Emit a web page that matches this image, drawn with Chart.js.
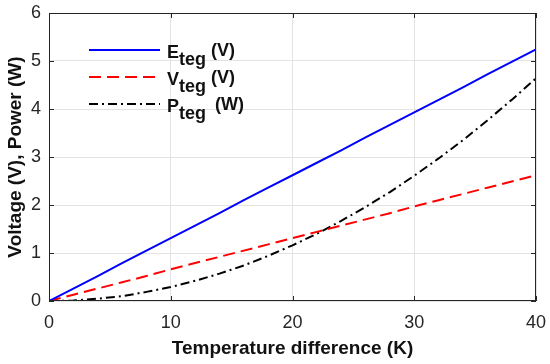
<!DOCTYPE html>
<html>
<head>
<meta charset="utf-8">
<script src="https://cdn.jsdelivr.net/npm/chart.js@4"></script>
<style>
  html, body { margin: 0; padding: 0; background: #fff; }
  #wrap { width: 550px; height: 364px; }
</style>
</head>
<body>
<div id="wrap"><canvas id="chart" width="550" height="364"></canvas></div>
<script>
// temperature difference (K)
const tempDiff = [0, 2, 4, 6, 8, 10, 12, 14, 16, 18, 20, 22, 24, 26, 28, 30, 32, 34, 36, 38, 40];
// values
const eTeg = [0, 0.26, 0.52, 0.79, 1.05, 1.31, 1.57, 1.83, 2.10, 2.36, 2.62, 2.88, 3.14, 3.41, 3.67, 3.93, 4.19, 4.45, 4.72, 4.98, 5.24];
const vTeg = [0, 0.13, 0.26, 0.39, 0.52, 0.66, 0.79, 0.92, 1.05, 1.18, 1.31, 1.44, 1.57, 1.70, 1.83, 1.97, 2.10, 2.23, 2.36, 2.49, 2.62];
const pTeg = [0, 0.01, 0.05, 0.10, 0.19, 0.29, 0.42, 0.57, 0.74, 0.94, 1.16, 1.40, 1.67, 1.96, 2.27, 2.61, 2.97, 3.35, 3.76, 4.19, 4.64];
const xTicks = [0, 10, 20, 30, 40];
const yTicks = [0, 1, 2, 3, 4, 5, 6];
const legendItems = [
  { main: 'E', sub: 'teg', unit: '(V)' },
  { main: 'V', sub: 'teg', unit: '(V)' },
  { main: 'P', sub: 'teg', unit: '(W)' },
];

const colors = ['#0000ff', '#ff0000', '#000000'];
const dashes = [[], [12, 6], [9, 4, 2, 4]];
const FONT = 'Arial, "Liberation Sans", sans-serif';

const toPoints = (ys) => tempDiff.map((x, i) => ({ x, y: ys[i] }));

const series = [eTeg, vTeg, pTeg].map((ys, i) => ({
  data: toPoints(ys),
  borderColor: colors[i],
  borderWidth: 2,
  borderDash: dashes[i],
  pointRadius: 0,
  fill: false,
  tension: 0,
}));

// MATLAB-like box, inward ticks and the subscript legend
const boxPlugin = {
  id: 'box',
  afterDatasetsDraw(chart) {
    const { ctx, chartArea: a, scales } = chart;
    ctx.save();
    ctx.strokeStyle = '#262626';
    ctx.lineWidth = 1;
    ctx.strokeRect(a.left + 0.5, a.top + 0.5, a.right - a.left - 1, a.bottom - a.top - 1);
    ctx.beginPath();
    xTicks.forEach((v) => {
      const px = Math.round(scales.x.getPixelForValue(v)) + 0.5;
      ctx.moveTo(px, a.bottom); ctx.lineTo(px, a.bottom - 5);
      ctx.moveTo(px, a.top); ctx.lineTo(px, a.top + 5);
    });
    yTicks.forEach((v) => {
      const py = Math.round(scales.y.getPixelForValue(v)) + 0.5;
      ctx.moveTo(a.left, py); ctx.lineTo(a.left + 5, py);
      ctx.moveTo(a.right, py); ctx.lineTo(a.right - 5, py);
    });
    ctx.stroke();

    const unitX = [211, 211, 215];
    legendItems.forEach((item, i) => {
      const y = 50 + i * 27;
      ctx.strokeStyle = colors[i];
      ctx.lineWidth = 2;
      ctx.setLineDash(dashes[i]);
      ctx.beginPath();
      ctx.moveTo(89, y); ctx.lineTo(160, y);
      ctx.stroke();
      ctx.setLineDash([]);
      ctx.fillStyle = '#111';
      ctx.textBaseline = 'alphabetic';
      ctx.font = `bold 18px ${FONT}`;
      ctx.fillText(item.main, 167, y + 8);
      const x = 167 + ctx.measureText(item.main).width;
      ctx.font = `bold 18px ${FONT}`;
      ctx.fillText(item.sub, x, y + 15);
      ctx.font = `bold 18px ${FONT}`;
      ctx.fillText(item.unit, unitX[i], y + 6);
    });
    ctx.restore();
  },
};

new Chart(document.getElementById('chart'), {
  type: 'line',
  data: { datasets: series },
  plugins: [boxPlugin],
  options: {
    responsive: false,
    animation: false,
    layout: { padding: { top: 13, right: 14, left: 0, bottom: 0 } },
    plugins: { legend: { display: false }, tooltip: { enabled: false } },
    scales: {
      x: {
        type: 'linear',
        min: 0,
        max: 40,
        afterBuildTicks: (s) => { s.ticks = xTicks.map((value) => ({ value })); },
        afterFit: (s) => { s.height = 63; s.paddingLeft = 0; s.paddingRight = 0; },
        grid: { color: '#e3e3e3', drawTicks: false },
        border: { display: false },
        ticks: { color: '#262626', font: { family: FONT, size: 18 }, padding: 11, maxRotation: 0 },
        title: { display: true, text: 'Temperature difference (K)', color: '#111', font: { family: FONT, size: 19, weight: 'bold' }, padding: { top: 0 } },
      },
      y: {
        type: 'linear',
        min: 0,
        max: 6,
        afterBuildTicks: (s) => { s.ticks = yTicks.map((value) => ({ value })); },
        afterFit: (s) => { s.width = 49; s.paddingTop = 0; s.paddingBottom = 0; },
        grid: { color: '#e3e3e3', drawTicks: false },
        border: { display: false },
        ticks: { color: '#262626', font: { family: FONT, size: 18 }, padding: 8 },
        title: { display: true, text: 'Voltage (V), Power (W)', color: '#111', font: { family: FONT, size: 19, weight: 'bold' }, padding: { bottom: 0 } },
      },
    },
  },
});
</script>
</body>
</html>
